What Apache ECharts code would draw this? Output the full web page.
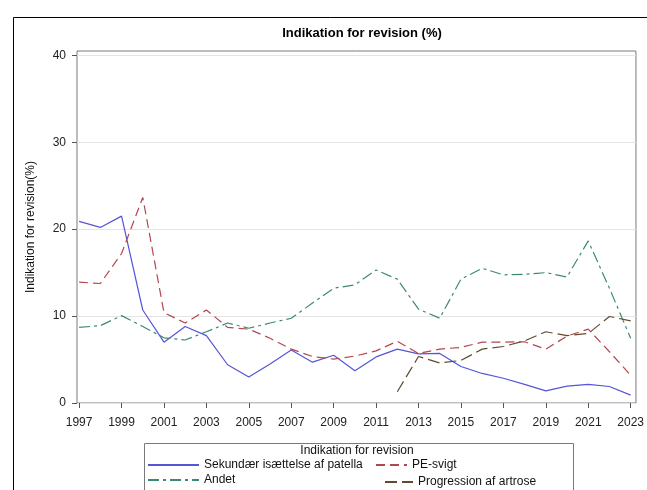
<!DOCTYPE html>
<html>
<head>
<meta charset="utf-8">
<script src="https://cdn.jsdelivr.net/npm/echarts@6/dist/echarts.min.js"></script>
<style>
html,body{margin:0;padding:0;background:#fff;}
#c{width:647px;height:490px;}
</style>
</head>
<body>
<div id="c"></div>
<script>
const years = [1997,1998,1999,2000,2001,2002,2003,2004,2005,2006,2007,2008,2009,2010,2011,2012,2013,2014,2015,2016,2017,2018,2019,2020,2021,2022,2023];
const sekundaer = [20.9,20.2,21.5,10.7,7.0,8.8,7.75,4.4,3.0,4.5,6.1,4.7,5.5,3.7,5.3,6.2,5.65,5.7,4.2,3.4,2.85,2.15,1.4,1.95,2.15,1.9,0.9];
const peSvigt = [13.9,13.75,17.2,23.65,10.4,9.2,10.7,8.7,8.5,7.45,6.2,5.35,5.05,5.4,6.0,7.1,5.7,6.2,6.4,7.0,7.0,7.05,6.2,7.7,8.5,5.9,3.2];
const andet = [8.7,8.9,10.05,8.8,7.5,7.25,8.2,9.2,8.6,9.2,9.75,11.5,13.2,13.6,15.3,14.25,10.8,9.75,14.25,15.5,14.75,14.8,15.0,14.5,18.65,13.2,7.45];
const progression = [null,null,null,null,null,null,null,null,null,null,null,null,null,null,null,1.3,5.35,4.6,4.9,6.2,6.5,7.15,8.2,7.75,8.0,9.95,9.45];
const xTicks = [1997,1999,2001,2003,2005,2007,2009,2011,2013,2015,2017,2019,2021,2023];
const yTicks = [0,10,20,30,40];
const names = ['Sekundær isættelse af patella','PE-svigt','Andet','Progression af artrose'];

function pairs(vals){ return years.map((y,i)=>[y, vals[i]]); }

const font = '"Liberation Sans", Arial, sans-serif';
const chart = echarts.init(document.getElementById('c'), null, {renderer:'canvas'});

function mk(name, vals, color, type){
  return {
    name: name, type: 'line', data: pairs(vals), symbol: 'none', showSymbol:false,
    connectNulls:false, animation:false,
    lineStyle: {color: color, width: 1.2, type: type},
    itemStyle: {color: color}
  };
}

const legendCommon = {
  orient: 'vertical', padding: 0,
  itemHeight: 14, itemGap: 3, selectedMode: false,
  itemStyle: {opacity: 0},
  textStyle: {fontSize: 12, color: '#111', fontFamily: font}
};

chart.setOption({
  animation: false,
  textStyle: {fontFamily: font},
  title: {
    text: 'Indikation for revision (%)', left: 357, top: 22, textAlign: 'center',
    textStyle: {fontSize: 13, fontWeight: 'bold', color: '#000', fontFamily: font}
  },
  grid: {left: 77, right: 10, top: 51, height: 352, show: true, borderColor: '#7a7a7a', borderWidth: 1, containLabel: false},
  xAxis: {
    type: 'value', min: 1996.9, max: 2023.25,
    axisLine: {show: false},
    splitLine: {show: false},
    axisTick: {show: true, length: 5, lineStyle: {color: '#555'}, customValues: xTicks},
    axisLabel: {customValues: xTicks, color: '#222', fontSize: 12, margin: 14, fontFamily: font, formatter: v => String(v)}
  },
  yAxis: {
    type: 'value', min: 0, max: 40.5,
    name: 'Indikation for revision(%)', nameLocation: 'middle', nameGap: 40, nameRotate: 90,
    nameTextStyle: {fontSize: 12, color: '#111', fontFamily: font},
    axisLine: {show: false},
    splitLine: {show: true, lineStyle: {color: '#e4e4e4', width: 1}},
    axisTick: {show: true, length: 5, lineStyle: {color: '#555'}, customValues: yTicks},
    axisLabel: {customValues: yTicks, color: '#222', fontSize: 12, margin: 11, fontFamily: font}
  },
  legend: [
    Object.assign({}, legendCommon, {data: [names[0], names[2]], left: 147, top: 459, itemWidth: 51}),
    Object.assign({}, legendCommon, {data: [names[1]], left: 375, top: 459, itemWidth: 31}),
    Object.assign({}, legendCommon, {data: [names[3]], left: 384, top: 476, itemWidth: 28})
  ],
  graphic: [
    {type: 'rect', left: 11, top: 15, shape: {width: 640, height: 480}, style: {fill: 'none', stroke: '#000', lineWidth: 1}, silent: true, z: -1},
    {type: 'rect', left: 142, top: 441, shape: {width: 429, height: 47}, style: {fill: 'none', stroke: '#7a7a7a', lineWidth: 1}, silent: true},
    {type: 'text', x: 357, y: 445, style: {text: 'Indikation for revision', font: '12px ' + font, fill: '#111', textAlign: 'center'}, silent: true}
  ],
  series: [
    mk(names[0], sekundaer, '#5555d8', 'solid'),
    mk(names[1], peSvigt, '#b4464f', [9,5]),
    mk(names[2], andet, '#3d8a74', [11,4,3,4]),
    mk(names[3], progression, '#5f4c2e', [12,5])
  ]
});
</script>
</body>
</html>
